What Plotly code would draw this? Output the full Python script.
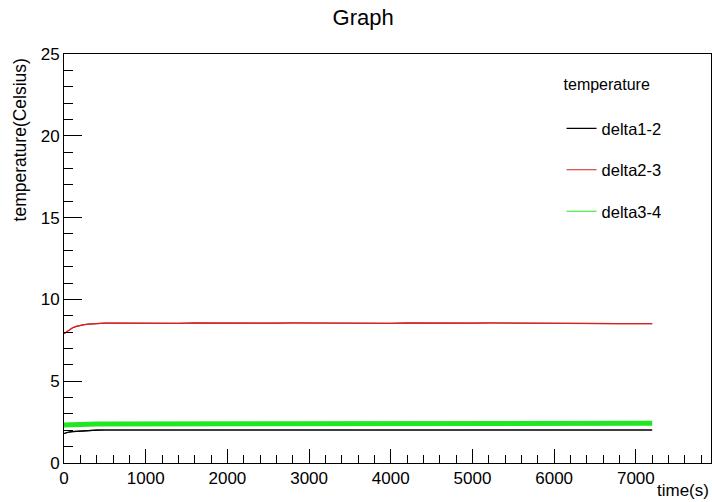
import plotly.graph_objects as go

# ---- data ----
time_s = [0, 25, 50, 100, 150, 200, 250, 300, 400, 500, 600, 800, 1000, 1200, 1400,
          1600, 1800, 2000, 2200, 2400, 2600, 2800, 3000, 3200, 3400, 3600, 3800,
          4000, 4200, 4400, 4600, 4800, 5000, 5200, 5400, 5600, 5800, 6000, 6200,
          6400, 6600, 6800, 7000, 7200]

delta12 = [1.80, 1.86, 1.88, 1.92, 1.94, 1.95, 1.96, 2.00, 2.01, 2.02, 2.02, 2.02, 2.02,
           2.02, 2.02, 2.02, 2.02, 2.02, 2.02, 2.02, 2.02, 2.02, 2.02, 2.02, 2.02, 2.02,
           2.02, 2.02, 2.02, 2.02, 2.02, 2.02, 2.02, 2.02, 2.02, 2.02, 2.02, 2.02, 2.02,
           2.02, 2.02, 2.02, 2.02, 2.02]

delta23 = [7.90, 8.00, 8.10, 8.25, 8.35, 8.42, 8.46, 8.49, 8.53, 8.55, 8.55, 8.54, 8.56,
           8.55, 8.54, 8.56, 8.55, 8.55, 8.56, 8.54, 8.55, 8.56, 8.55, 8.55, 8.55, 8.56,
           8.55, 8.54, 8.56, 8.55, 8.55, 8.54, 8.55, 8.56, 8.55, 8.54, 8.55, 8.55, 8.53,
           8.52, 8.52, 8.52, 8.52, 8.52]

delta34 = [2.32, 2.33, 2.34, 2.35, 2.36, 2.36, 2.37, 2.37, 2.38, 2.38, 2.38, 2.38, 2.39,
           2.38, 2.39, 2.39, 2.39, 2.39, 2.40, 2.39, 2.40, 2.40, 2.40, 2.40, 2.40, 2.40,
           2.40, 2.41, 2.40, 2.41, 2.41, 2.40, 2.41, 2.41, 2.41, 2.41, 2.41, 2.41, 2.41,
           2.41, 2.41, 2.42, 2.42, 2.43]

series_names = ["delta1-2", "delta2-3", "delta3-4"]
series_values = [delta12, delta23, delta34]
series_colors = ["#000000", "#d42222", "#22e622"]
band_widths = [1.1, 1.2, 5]  # the noisy delta3-4 trace shows as a ~5px band

FONT = "Liberation Sans, Arial, Helvetica, sans-serif"

fig = go.Figure()
for i, (name, vals, col, w) in enumerate(zip(series_names, series_values, series_colors, band_widths)):
    # visible curve
    fig.add_trace(go.Scatter(
        x=time_s, y=vals, mode="lines", name=name,
        line=dict(color=col, width=w),
        showlegend=False, hoverinfo="skip",
    ))
    # thin line used for the legend entry (ROOT style)
    fig.add_trace(go.Scatter(
        x=time_s, y=vals, mode="lines", name=name,
        line=dict(color=col, width=1.1),
        legendgroup=f"g{i}", showlegend=True,
    ))

fig.update_layout(
    width=712, height=502,
    margin=dict(l=64, r=1, t=54, b=39),
    paper_bgcolor="white", plot_bgcolor="white",
    font=dict(family=FONT, size=17, color="black"),
    title=dict(text="Graph", x=0.51, xanchor="center", y=0.965, yanchor="middle",
               font=dict(size=22, family=FONT, color="black")),
    showlegend=True,
    legend=dict(
        x=0.769, y=0.962, xanchor="left", yanchor="top",
        title=dict(text="temperature<br> ", font=dict(size=16)),
        font=dict(size=16.5),
        traceorder="grouped", tracegroupgap=17,
        bgcolor="rgba(0,0,0,0)", itemwidth=30,
    ),
    xaxis=dict(
        range=[0, 7920], showgrid=False, zeroline=False,
        showline=True, linecolor="black", linewidth=1, mirror=True,
        ticks="inside", ticklen=14, tickcolor="black", tickwidth=1,
        dtick=1000, tick0=0,
        minor=dict(ticks="inside", ticklen=8, dtick=200, tick0=0, tickcolor="black"),
        tickfont=dict(size=17),
    ),
    yaxis=dict(
        range=[0, 25], showgrid=False, zeroline=False,
        showline=True, linecolor="black", linewidth=1, mirror=True,
        ticks="inside", ticklen=18, tickcolor="black", tickwidth=1,
        dtick=5, tick0=0,
        minor=dict(ticks="inside", ticklen=9, dtick=1, tick0=0, tickcolor="black"),
        tickfont=dict(size=17),
    ),
    annotations=[
        dict(text="temperature(Celsius)", textangle=-90, xref="paper", yref="paper",
             x=-0.0665, y=0.791, xanchor="center", yanchor="middle", showarrow=False,
             font=dict(size=17.5)),
        dict(text="time(s)", xref="paper", yref="paper", x=1.0, y=-0.068,
             xanchor="right", yanchor="middle", showarrow=False, font=dict(size=17)),
    ],
)

fig.write_html("out.html", config={"displayModeBar": False},
               post_script="document.body.style.margin='0px';")
